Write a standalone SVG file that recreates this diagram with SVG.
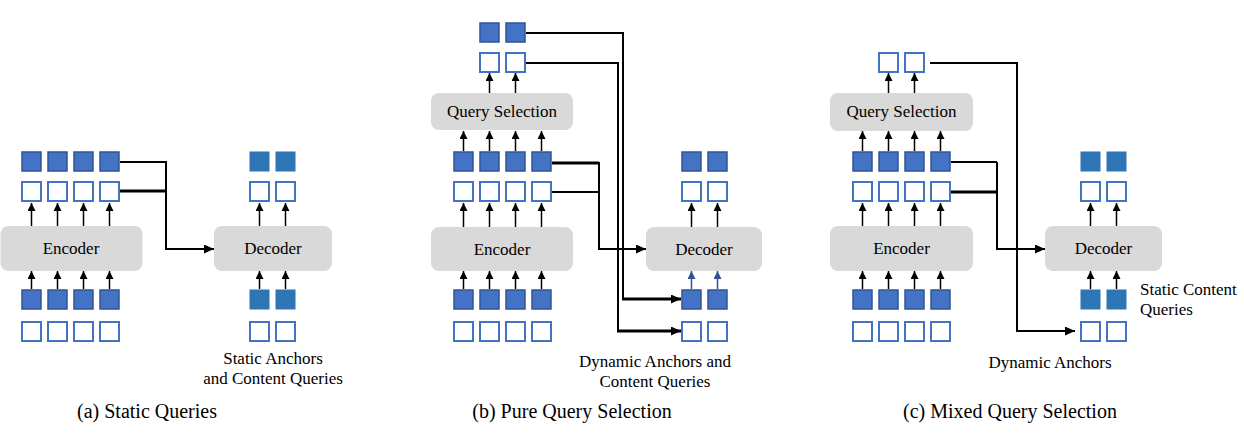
<svg xmlns="http://www.w3.org/2000/svg" width="1244" height="439" viewBox="0 0 1244 439">
<defs>
<style>
.f{fill:#4472C4;stroke:#2F5597;stroke-width:1.5}
.h{fill:#fff;stroke:#4472C4;stroke-width:2}
.s{fill:#2E75B6}
.box{fill:#D9D9D9}
.t{font-size:17px;fill:#000;text-anchor:middle}
.l{text-anchor:start}
.cap{font-size:20px}
.ar{stroke:#000;stroke-width:1.5;fill:none;marker-end:url(#ah)}
.arb{stroke:#2F5597;stroke-width:1.5;fill:none;marker-end:url(#ahb)}
.c{fill:none;stroke:#000;stroke-width:2}
.k{stroke-width:3}
.ca{marker-end:url(#ah2)}
</style>
<marker id="ah" markerUnits="userSpaceOnUse" markerWidth="8" markerHeight="8" refX="8" refY="4" orient="auto"><path d="M0,0 L8,4 L0,8 z" fill="#000"/></marker>
<marker id="ahb" markerUnits="userSpaceOnUse" markerWidth="8" markerHeight="8" refX="8" refY="4" orient="auto"><path d="M0,0 L8,4 L0,8 z" fill="#2F5597"/></marker>
<marker id="ah2" markerUnits="userSpaceOnUse" markerWidth="10" markerHeight="9" refX="10" refY="4.5" orient="auto"><path d="M0,0 L10,4.5 L0,9 z" fill="#000"/></marker>
</defs>
<rect width="1244" height="439" fill="#fff"/>
<g font-family="Liberation Serif, Times New Roman, DejaVu Serif, serif">

<!-- Panel (a) -->
<g id="a-encoder"><rect class="box" x="0.5" y="226" width="142" height="45" rx="8"/><text class="t" x="71" y="254">Encoder</text></g>
<g id="a-decoder"><rect class="box" x="214" y="226" width="118" height="45" rx="8"/><text class="t" x="273" y="254">Decoder</text></g>
<g id="a-enc-out-content">
<rect class="f" x="22" y="152" width="19" height="19"/><rect class="f" x="48" y="152" width="19" height="19"/><rect class="f" x="74" y="152" width="19" height="19"/><rect class="f" x="100" y="152" width="19" height="19"/>
</g>
<g id="a-enc-out-anchor">
<rect class="h" x="22" y="182" width="19" height="19"/><rect class="h" x="48" y="182" width="19" height="19"/><rect class="h" x="74" y="182" width="19" height="19"/><rect class="h" x="100" y="182" width="19" height="19"/>
</g>
<g id="a-enc-in-content">
<rect class="f" x="22" y="290" width="19" height="19"/><rect class="f" x="48" y="290" width="19" height="19"/><rect class="f" x="74" y="290" width="19" height="19"/><rect class="f" x="100" y="290" width="19" height="19"/>
</g>
<g id="a-enc-in-anchor">
<rect class="h" x="22" y="322" width="19" height="19"/><rect class="h" x="48" y="322" width="19" height="19"/><rect class="h" x="74" y="322" width="19" height="19"/><rect class="h" x="100" y="322" width="19" height="19"/>
</g>
<g id="a-dec-out"><rect class="s" x="249.5" y="151.5" width="20" height="20"/><rect class="s" x="275.5" y="151.5" width="20" height="20"/>
<rect class="h" x="250" y="182" width="19" height="19"/><rect class="h" x="276" y="182" width="19" height="19"/></g>
<g id="a-dec-in"><rect class="s" x="249.5" y="289.5" width="20" height="20"/><rect class="s" x="275.5" y="289.5" width="20" height="20"/>
<rect class="h" x="250" y="322" width="19" height="19"/><rect class="h" x="276" y="322" width="19" height="19"/></g>
<g id="a-labels">
<text class="t" x="273" y="364">Static Anchors</text>
<text class="t" x="273" y="384">and Content Queries</text>
<text class="t cap" x="147" y="418">(a) Static Queries</text>
</g>

<!-- Panel (b) -->
<g id="b-query-selection"><rect class="box" x="431" y="93" width="142" height="37" rx="8"/><text class="t" x="502" y="117">Query Selection</text></g>
<g id="b-encoder"><rect class="box" x="431" y="227" width="142" height="44" rx="8"/><text class="t" x="502" y="255">Encoder</text></g>
<g id="b-decoder"><rect class="box" x="646" y="227" width="116" height="44" rx="8"/><text class="t" x="704" y="255">Decoder</text></g>
<g id="b-selected">
<rect class="f" x="480" y="23" width="19" height="19"/><rect class="f" x="506" y="23" width="19" height="19"/>
<rect class="h" x="480" y="53" width="19" height="19"/><rect class="h" x="506" y="53" width="19" height="19"/>
</g>
<g id="b-enc-out">
<rect class="f" x="454" y="152" width="19" height="19"/><rect class="f" x="480" y="152" width="19" height="19"/><rect class="f" x="506" y="152" width="19" height="19"/><rect class="f" x="532" y="152" width="19" height="19"/>
<rect class="h" x="454" y="182" width="19" height="19"/><rect class="h" x="480" y="182" width="19" height="19"/><rect class="h" x="506" y="182" width="19" height="19"/><rect class="h" x="532" y="182" width="19" height="19"/>
</g>
<g id="b-enc-in">
<rect class="f" x="454" y="290" width="19" height="19"/><rect class="f" x="480" y="290" width="19" height="19"/><rect class="f" x="506" y="290" width="19" height="19"/><rect class="f" x="532" y="290" width="19" height="19"/>
<rect class="h" x="454" y="322" width="19" height="19"/><rect class="h" x="480" y="322" width="19" height="19"/><rect class="h" x="506" y="322" width="19" height="19"/><rect class="h" x="532" y="322" width="19" height="19"/>
</g>
<g id="b-dec-out">
<rect class="f" x="682" y="152" width="19" height="19"/><rect class="f" x="708" y="152" width="19" height="19"/>
<rect class="h" x="682" y="182" width="19" height="19"/><rect class="h" x="708" y="182" width="19" height="19"/>
</g>
<g id="b-dec-in">
<rect class="f" x="682" y="290" width="19" height="19"/><rect class="f" x="708" y="290" width="19" height="19"/>
<rect class="h" x="682" y="322" width="19" height="19"/><rect class="h" x="708" y="322" width="19" height="19"/>
</g>
<g id="b-labels">
<text class="t" x="655" y="367">Dynamic Anchors and</text>
<text class="t" x="655" y="387">Content Queries</text>
<text class="t cap" x="572" y="418">(b) Pure Query Selection</text>
</g>

<!-- Panel (c) -->
<g id="c-query-selection"><rect class="box" x="830" y="93" width="143" height="38" rx="8"/><text class="t" x="901.5" y="117">Query Selection</text></g>
<g id="c-encoder"><rect class="box" x="830" y="226" width="143" height="45" rx="8"/><text class="t" x="901.5" y="254">Encoder</text></g>
<g id="c-decoder"><rect class="box" x="1045" y="226" width="117" height="45" rx="8"/><text class="t" x="1103.5" y="254">Decoder</text></g>
<g id="c-selected">
<rect class="h" x="879" y="53" width="19" height="19"/><rect class="h" x="905" y="53" width="19" height="19"/>
</g>
<g id="c-enc-out">
<rect class="f" x="853" y="152" width="19" height="19"/><rect class="f" x="879" y="152" width="19" height="19"/><rect class="f" x="905" y="152" width="19" height="19"/><rect class="f" x="931" y="152" width="19" height="19"/>
<rect class="h" x="853" y="182" width="19" height="19"/><rect class="h" x="879" y="182" width="19" height="19"/><rect class="h" x="905" y="182" width="19" height="19"/><rect class="h" x="931" y="182" width="19" height="19"/>
</g>
<g id="c-enc-in">
<rect class="f" x="853" y="290" width="19" height="19"/><rect class="f" x="879" y="290" width="19" height="19"/><rect class="f" x="905" y="290" width="19" height="19"/><rect class="f" x="931" y="290" width="19" height="19"/>
<rect class="h" x="853" y="322" width="19" height="19"/><rect class="h" x="879" y="322" width="19" height="19"/><rect class="h" x="905" y="322" width="19" height="19"/><rect class="h" x="931" y="322" width="19" height="19"/>
</g>
<g id="c-dec-out">
<rect class="s" x="1080.5" y="151.5" width="20" height="20"/><rect class="s" x="1106.5" y="151.5" width="20" height="20"/>
<rect class="h" x="1081" y="182" width="19" height="19"/><rect class="h" x="1107" y="182" width="19" height="19"/>
</g>
<g id="c-dec-in">
<rect class="s" x="1080.5" y="289.5" width="20" height="20"/><rect class="s" x="1106.5" y="289.5" width="20" height="20"/>
<rect class="h" x="1081" y="322" width="19" height="19"/><rect class="h" x="1107" y="322" width="19" height="19"/>
</g>
<g id="c-labels">
<text class="t l" x="1140" y="295">Static Content</text>
<text class="t l" x="1140" y="315">Queries</text>
<text class="t" x="1050" y="368">Dynamic Anchors</text>
<text class="t cap" x="1010" y="418">(c) Mixed Query Selection</text>
</g>
</g>

<g id="connectors">
<!-- (a) small arrows -->
<line class="ar" x1="31.5" y1="226" x2="31.5" y2="203"/><line class="ar" x1="57.5" y1="226" x2="57.5" y2="203"/><line class="ar" x1="83.5" y1="226" x2="83.5" y2="203"/><line class="ar" x1="109.5" y1="226" x2="109.5" y2="203"/>
<line class="ar" x1="31.5" y1="289" x2="31.5" y2="271"/><line class="ar" x1="57.5" y1="289" x2="57.5" y2="271"/><line class="ar" x1="83.5" y1="289" x2="83.5" y2="271"/><line class="ar" x1="109.5" y1="289" x2="109.5" y2="271"/>
<line class="ar" x1="259.5" y1="226" x2="259.5" y2="203"/><line class="ar" x1="285.5" y1="226" x2="285.5" y2="203"/>
<line class="ar" x1="259.5" y1="289" x2="259.5" y2="271"/><line class="ar" x1="285.5" y1="289" x2="285.5" y2="271"/>
<!-- (a) connector -->
<path class="c k" d="M120,191H166"/>
<path class="c ca" d="M120,162H166V249H214"/>
<!-- (b) small arrows -->
<line class="ar" x1="489.5" y1="93" x2="489.5" y2="73"/><line class="ar" x1="515.5" y1="93" x2="515.5" y2="73"/>
<line class="ar" x1="463.5" y1="151" x2="463.5" y2="131"/><line class="ar" x1="489.5" y1="151" x2="489.5" y2="131"/><line class="ar" x1="515.5" y1="151" x2="515.5" y2="131"/><line class="ar" x1="541.5" y1="151" x2="541.5" y2="131"/>
<line class="ar" x1="463.5" y1="227" x2="463.5" y2="203"/><line class="ar" x1="489.5" y1="227" x2="489.5" y2="203"/><line class="ar" x1="515.5" y1="227" x2="515.5" y2="203"/><line class="ar" x1="541.5" y1="227" x2="541.5" y2="203"/>
<line class="ar" x1="463.5" y1="289" x2="463.5" y2="271"/><line class="ar" x1="489.5" y1="289" x2="489.5" y2="271"/><line class="ar" x1="515.5" y1="289" x2="515.5" y2="271"/><line class="ar" x1="541.5" y1="289" x2="541.5" y2="271"/>
<line class="ar" x1="691.5" y1="227" x2="691.5" y2="203"/><line class="ar" x1="717.5" y1="227" x2="717.5" y2="203"/>
<line class="arb" x1="691.5" y1="289" x2="691.5" y2="271"/><line class="arb" x1="717.5" y1="289" x2="717.5" y2="271"/>
<!-- (b) connectors -->
<path class="c" d="M526,33H623V299"/>
<path class="c k ca" d="M622,299H681"/>
<path class="c" d="M526,63H618V331"/>
<path class="c k ca" d="M617,331H681"/>
<path class="c k" d="M552,163H599"/>
<path class="c" d="M552,192H599"/>
<path class="c ca" d="M599,162V249H646"/>
<!-- (c) small arrows -->
<line class="ar" x1="888.5" y1="93" x2="888.5" y2="73"/><line class="ar" x1="914.5" y1="93" x2="914.5" y2="73"/>
<line class="ar" x1="862.5" y1="151" x2="862.5" y2="131"/><line class="ar" x1="888.5" y1="151" x2="888.5" y2="131"/><line class="ar" x1="914.5" y1="151" x2="914.5" y2="131"/><line class="ar" x1="940.5" y1="151" x2="940.5" y2="131"/>
<line class="ar" x1="862.5" y1="226" x2="862.5" y2="203"/><line class="ar" x1="888.5" y1="226" x2="888.5" y2="203"/><line class="ar" x1="914.5" y1="226" x2="914.5" y2="203"/><line class="ar" x1="940.5" y1="226" x2="940.5" y2="203"/>
<line class="ar" x1="862.5" y1="289" x2="862.5" y2="271"/><line class="ar" x1="888.5" y1="289" x2="888.5" y2="271"/><line class="ar" x1="914.5" y1="289" x2="914.5" y2="271"/><line class="ar" x1="940.5" y1="289" x2="940.5" y2="271"/>
<line class="ar" x1="1090.5" y1="226" x2="1090.5" y2="203"/><line class="ar" x1="1116.5" y1="226" x2="1116.5" y2="203"/>
<line class="ar" x1="1090.5" y1="289" x2="1090.5" y2="271"/><line class="ar" x1="1116.5" y1="289" x2="1116.5" y2="271"/>
<!-- (c) connectors -->
<path class="c ca" d="M930,63H1017V331H1075"/>
<path class="c" d="M951,162H997"/>
<path class="c k" d="M951,192H997"/>
<path class="c ca" d="M997,162V249H1045"/>
</g>
</svg>
